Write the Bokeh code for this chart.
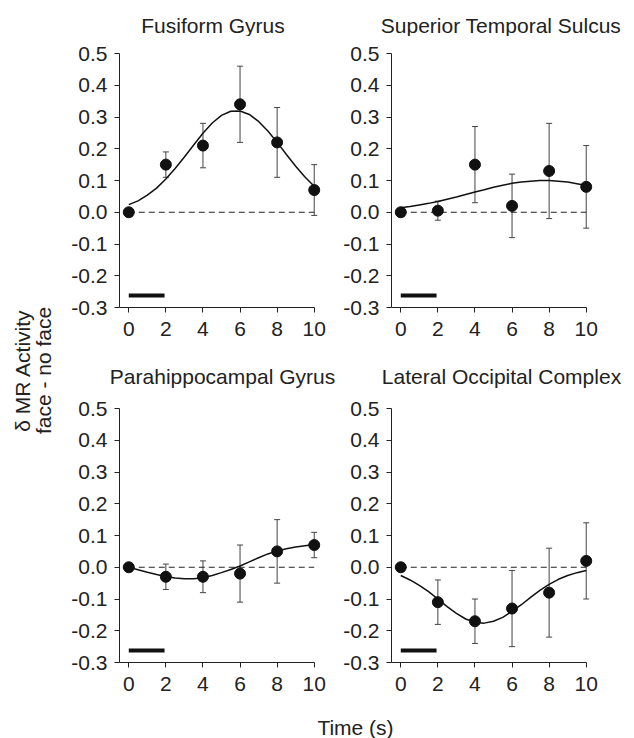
from math import pi
from bokeh.plotting import figure
from bokeh.layouts import row, column
from bokeh.models import (ColumnDataSource, Whisker, TeeHead, FixedTicker,
                          PrintfTickFormatter, Range1d)
from bokeh.embed import file_html
from bokeh.resources import INLINE
from bokeh.core.properties import value

# ---------------- data ----------------
TIME = [0, 2, 4, 6, 8, 10]
X_TICKS = [0, 2, 4, 6, 8, 10]
Y_TICKS = [-0.3, -0.2, -0.1, 0.0, 0.1, 0.2, 0.3, 0.4, 0.5]
STIMULUS = [0, 1.93]

FIT_T = [0, 0.5, 1, 1.5, 2, 2.5, 3, 3.5, 4, 4.5, 5, 5.5, 6, 6.5, 7, 7.5, 8, 8.5, 9, 9.5, 10]

TITLES = ["Fusiform Gyrus", "Superior Temporal Sulcus",
          "Parahippocampal Gyrus", "Lateral Occipital Complex"]

FG_MEAN = [0.00, 0.15, 0.21, 0.34, 0.22, 0.07]
FG_LOW = [0.11, 0.14, 0.22, 0.11, -0.01]
FG_HIGH = [0.19, 0.28, 0.46, 0.33, 0.15]
FG_FIT = [0.024, 0.036, 0.054, 0.076, 0.105, 0.138, 0.174, 0.212, 0.249, 0.281,
          0.305, 0.318, 0.319, 0.308, 0.286, 0.256, 0.220, 0.182, 0.145, 0.111, 0.082]

STS_MEAN = [0.00, 0.005, 0.15, 0.02, 0.13, 0.08]
STS_LOW = [-0.025, 0.03, -0.08, -0.02, -0.05]
STS_HIGH = [0.035, 0.27, 0.12, 0.28, 0.21]
STS_FIT = [0.014, 0.018, 0.023, 0.028, 0.034, 0.041, 0.048, 0.056, 0.064, 0.071,
           0.079, 0.085, 0.091, 0.095, 0.098, 0.100, 0.100, 0.098, 0.095, 0.090, 0.084]

PHG_MEAN = [0.00, -0.03, -0.03, -0.02, 0.05, 0.07]
PHG_LOW = [-0.07, -0.08, -0.11, -0.05, 0.03]
PHG_HIGH = [0.01, 0.02, 0.07, 0.15, 0.11]
PHG_FIT = [0.000, -0.008, -0.016, -0.023, -0.029, -0.034, -0.036, -0.036, -0.033, -0.026,
           -0.017, -0.007, 0.004, 0.017, 0.030, 0.042, 0.051, 0.058, 0.064, 0.068, 0.072]

LOC_MEAN = [0.00, -0.11, -0.17, -0.13, -0.08, 0.02]
LOC_LOW = [-0.18, -0.24, -0.25, -0.22, -0.10]
LOC_HIGH = [-0.04, -0.10, -0.01, 0.06, 0.14]
LOC_FIT = [-0.026, -0.040, -0.057, -0.077, -0.100, -0.124, -0.145, -0.163, -0.173, -0.176,
           -0.170, -0.158, -0.139, -0.118, -0.095, -0.073, -0.054, -0.038, -0.026, -0.017, -0.010]

# ---------------- style ----------------
FONT = "Liberation Sans"
TXT = "#222222"
INK = "#111111"
BAR = "#444444"
FS = "21px"


def panel(mean, low, high, fit, width, height, b_left, b_right, b_top, b_bottom):
    p = figure(width=width, height=height, x_range=Range1d(-0.5, 10.5),
               y_range=Range1d(-0.3, 0.5), toolbar_location=None,
               output_backend="svg", min_border_left=b_left,
               min_border_right=b_right, min_border_top=b_top,
               min_border_bottom=b_bottom)
    p.outline_line_color = None
    p.xgrid.visible = False
    p.ygrid.visible = False
    p.background_fill_color = "white"
    p.border_fill_color = "white"

    for ax in (p.xaxis[0], p.yaxis[0]):
        ax.axis_line_color = TXT
        ax.axis_line_width = 1
        ax.major_tick_line_color = TXT
        ax.major_tick_out = 5
        ax.major_tick_in = 0
        ax.minor_tick_line_color = None
        ax.major_label_text_font = FONT
        ax.major_label_text_font_size = FS
        ax.major_label_text_color = TXT
    p.xaxis[0].ticker = FixedTicker(ticks=X_TICKS)
    p.xaxis[0].bounds = (-0.5, 10)
    p.xaxis[0].major_label_standoff = 9
    p.yaxis[0].ticker = FixedTicker(ticks=Y_TICKS)
    p.yaxis[0].bounds = (-0.3, 0.5)
    p.yaxis[0].formatter = PrintfTickFormatter(format="%.1f")
    p.yaxis[0].major_label_standoff = 7

    # zero reference line
    p.line(x=[TIME[0], TIME[-1]], y=[0, 0], line_color=TXT, line_width=1,
           line_dash="6 4")
    # stimulus bar
    p.segment(x0=[STIMULUS[0]], y0=[-0.262], x1=[STIMULUS[1]], y1=[-0.262],
              line_color=INK, line_width=4, line_cap="butt")
    # fitted curve
    p.line(x=FIT_T, y=fit, line_color=INK, line_width=1.5)
    # error bars
    esrc = ColumnDataSource(dict(t=TIME[1:], lo=low, hi=high))
    w = Whisker(source=esrc, base="t", lower="lo", upper="hi",
                line_color=BAR, line_width=1,
                upper_head=TeeHead(size=6, line_color=BAR, line_width=1),
                lower_head=TeeHead(size=6, line_color=BAR, line_width=1))
    p.add_layout(w)
    # points
    p.scatter(x=TIME, y=mean, size=11, fill_color=INK, line_color=INK)
    return p


def strip(width, height, xs, y, texts, angle=0.0):
    s = figure(width=width, height=height, x_range=Range1d(0, width),
               y_range=Range1d(0, height), toolbar_location=None,
               output_backend="svg", min_border=0,
               x_axis_type=None, y_axis_type=None)
    s.outline_line_color = None
    s.text(x=xs, y=y, text=texts, angle=angle, text_align="center",
           text_baseline="middle", text_font=value(FONT), text_font_size=FS,
           text_color=TXT)
    return s


f1 = panel(FG_MEAN, FG_LOW, FG_HIGH, FG_FIT, 272, 314, 50, 17, 17, 43)
f2 = panel(STS_MEAN, STS_LOW, STS_HIGH, STS_FIT, 294, 314, 50, 39, 17, 43)
f3 = panel(PHG_MEAN, PHG_LOW, PHG_HIGH, PHG_FIT, 272, 312, 50, 17, 18, 40)
f4 = panel(LOC_MEAN, LOC_LOW, LOC_HIGH, LOC_FIT, 294, 312, 50, 39, 18, 40)

# panel titles (strips above each row)
t_top = strip(566, 36, [144.5, 432.5], [11, 11], TITLES[:2])
t_bot = strip(566, 40, [154, 433], [14, 14], TITLES[2:])

# shared y label
yl = strip(68, 738, [22, 43], [368, 368], ["δ MR Activity", "face - no face"],
           angle=pi / 2)

# shared x label
xl = strip(566, 36, [287], [11], ["Time (s)"])

layout = row(yl, column(t_top, row(f1, f2), t_bot, row(f3, f4), xl))

open("out.html", "w").write(file_html(layout, INLINE))
